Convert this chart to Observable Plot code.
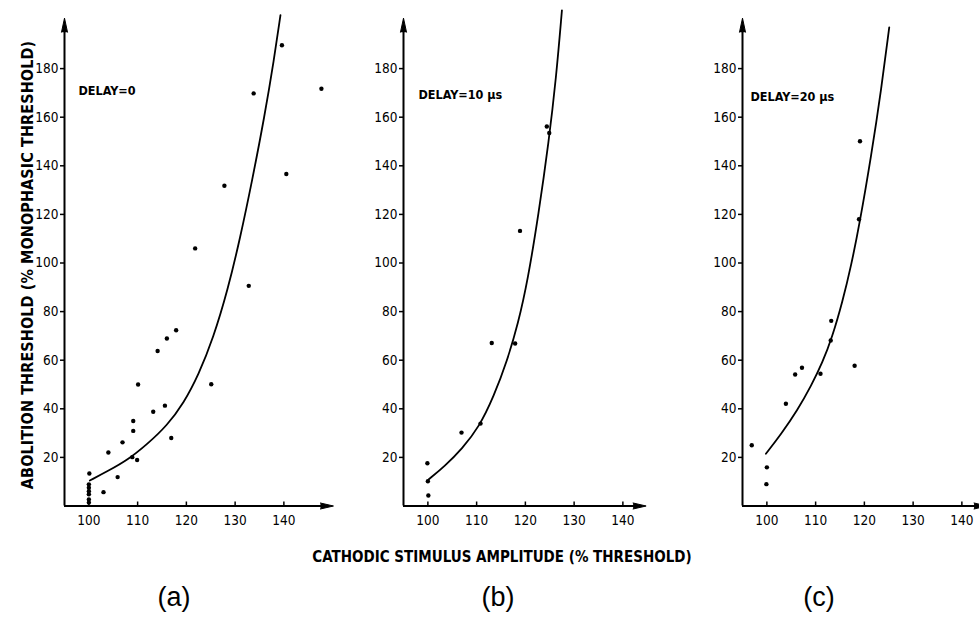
<!DOCTYPE html>
<html>
<head>
<meta charset="utf-8">
<script src="https://cdn.jsdelivr.net/npm/d3@7"></script>
<script src="https://cdn.jsdelivr.net/npm/@observablehq/plot@0.6"></script>
<style>
  html, body { margin: 0; padding: 0; background: #fff; }
  #wrap { position: relative; width: 979px; height: 617px; overflow: hidden; background: #fff; color: #000; }
  .panel { position: absolute; top: 0; width: 339px; height: 540px; }
  .panel svg { max-width: none !important; }
  .ytitle {
    position: absolute; left: 27px; top: 265px; white-space: nowrap;
    transform: translate(-50%, -50%) rotate(-90deg);
    font-family: "DejaVu Sans", sans-serif; font-stretch: condensed;
    font-weight: bold; font-size: 16px; letter-spacing: 0.1px;
  }
  .xtitle {
    position: absolute; left: 502px; top: 557px; white-space: nowrap;
    transform: translate(-50%, -50%);
    font-family: "DejaVu Sans", sans-serif; font-stretch: condensed;
    font-weight: bold; font-size: 15px; letter-spacing: 0px;
  }
  .tag {
    position: absolute; top: 597px; transform: translate(-50%, -50%);
    font-family: "Liberation Sans", Arial, sans-serif; font-size: 27px;
  }
</style>
</head>
<body>
<div id="wrap"></div>
<script>
// Abolition threshold vs. cathodic stimulus amplitude, three delays.

const xDomain = [95, 150];
const yDomain = [0, 200];
const xTicks = [100, 110, 120, 130, 140];
const yTicks = [20, 40, 60, 80, 100, 120, 140, 160, 180];
const panelTags = ["(a)", "(b)", "(c)"];
const delayLabels = ["DELAY=0", "DELAY=10 \u03bcs", "DELAY=20 \u03bcs"];
const xAxisEnds = [150, 144.6, 145];

// (a) delay = 0
const amplitudeA = [139.6, 133.8, 147.7, 127.8, 140.5, 121.8, 132.8, 117.9, 116.0, 114.1, 110.1, 125.1, 113.2, 115.6, 109.1, 109.1, 106.9, 116.9, 104.0, 108.9, 109.9, 105.9, 103.0, 100.1, 100.0, 100.0, 100.0, 100.0, 100.0, 100.0];
const thresholdA = [189.6, 169.8, 171.7, 131.8, 136.6, 106.0, 90.6, 72.3, 68.9, 63.8, 50.0, 50.1, 38.8, 41.3, 35.0, 30.9, 26.2, 28.0, 22.0, 20.1, 18.9, 11.9, 5.7, 13.4, 8.9, 7.5, 6.1, 4.8, 2.7, 1.4];
const fitXA = [100.2, 104.0, 108.0, 112.0, 116.0, 119.5, 122.5, 125.5, 128.5, 131.0, 133.5, 136.0, 138.0, 139.3];
const fitYA = [10.5, 14.5, 19.0, 25.5, 33.0, 42.5, 54.0, 69.0, 89.0, 110.0, 134.0, 160.0, 184.0, 202.0];

// (b) delay = 10 us
const amplitudeB = [124.4, 124.9, 118.9, 113.1, 117.9, 106.9, 110.8, 99.9, 100.0, 100.1];
const thresholdB = [156.2, 153.5, 113.2, 67.1, 66.9, 30.2, 33.9, 17.6, 10.2, 4.3];
const fitXB = [100.2, 103.5, 107.0, 110.5, 113.5, 116.3, 118.5, 120.5, 122.7, 124.8, 126.3, 127.5];
const fitYB = [11.0, 16.5, 23.5, 32.5, 45.0, 60.0, 75.0, 93.0, 120.0, 150.0, 176.0, 204.0];

// (c) delay = 20 us
const amplitudeC = [119.1, 118.9, 113.2, 113.1, 118.0, 107.2, 105.8, 111.0, 103.9, 96.9, 100.0, 99.9];
const thresholdC = [150.1, 118.0, 76.2, 68.1, 57.7, 56.9, 54.1, 54.4, 42.1, 25.0, 15.9, 9.0];
const fitXC = [99.8, 102.9, 106.3, 109.1, 111.4, 113.4, 115.5, 117.3, 119.0, 121.4, 123.5, 125.1];
const fitYC = [21.5, 29.5, 39.5, 49.5, 59.0, 69.5, 84.0, 99.0, 116.0, 144.0, 172.0, 197.0];

const zip = (xs, ys) => xs.map((x, i) => ({x, y: ys[i]}));
const panels = [
  {pts: zip(amplitudeA, thresholdA), fit: zip(fitXA, fitYA), labelDx: 14, labelDy: 70.5},
  {pts: zip(amplitudeB, thresholdB), fit: zip(fitXB, fitYB), labelDx: 15, labelDy: 74.5},
  {pts: zip(amplitudeC, thresholdC), fit: zip(fitXC, fitYC), labelDx: 8, labelDy: 76.5}
];

const W = 339, H = 540, mL = 64, mT = 19.5, mB = 34.5;
const mR = W - mL - (xDomain[1] - xDomain[0]) * 4.875;
const frameH = H - mT - mB;
const yArrowBase = 195;

const wrap = document.getElementById("wrap");

panels.forEach((p, i) => {
  const chart = Plot.plot({
    width: W, height: H,
    marginLeft: mL, marginRight: mR, marginTop: mT, marginBottom: mB,
    x: {domain: xDomain},
    y: {domain: yDomain},
    style: {fontFamily: "'DejaVu Sans', sans-serif", fontStretch: "condensed", fontSize: "13.5px", color: "#000", background: "transparent", overflow: "visible", maxWidth: "none"},
    marks: [
      Plot.axisY(yTicks, {tickSize: 4, tickPadding: 2, label: null, fontSize: 13.5, strokeWidth: 1.5}),
      Plot.axisX(xTicks, {tickSize: 0, tickPadding: 9, label: null, fontSize: 13.5}),
      Plot.tickX(xTicks, {x: d => d, insetTop: frameH - 4, strokeWidth: 1.5}),
      Plot.ruleX([xDomain[0]], {y1: yDomain[0], y2: yArrowBase, strokeWidth: 2}),
      Plot.ruleY([yDomain[0]], {x1: xDomain[0], x2: xAxisEnds[i] - 2, strokeWidth: 2}),
      Plot.vector([yArrowBase], {x: () => xDomain[0], y: d => d, shape: "spike", anchor: "start", length: 14, r: 3, fill: "#000", stroke: "#000", strokeWidth: 1}),
      Plot.vector([xAxisEnds[i] - 2.5], {x: d => d, y: () => yDomain[0], rotate: 90, shape: "spike", anchor: "start", length: 13, r: 3, fill: "#000", stroke: "#000", strokeWidth: 1}),
      Plot.line(p.fit, {x: "x", y: "y", curve: "basis", stroke: "#000", strokeWidth: 1.8}),
      Plot.dot(p.pts, {x: "x", y: "y", r: 2.2, fill: "#000"}),
      Plot.text([delayLabels[i]], {text: d => d, frameAnchor: "top-left", dx: p.labelDx, dy: p.labelDy, textAnchor: "start", lineAnchor: "middle", fontSize: 12.5, fontWeight: "bold", fill: "#000"})
    ]
  });
  const holder = document.createElement("div");
  holder.className = "panel";
  holder.style.left = (i * W) + "px";
  holder.appendChild(chart);
  wrap.appendChild(holder);

  const tag = document.createElement("div");
  tag.className = "tag";
  tag.style.left = [174, 498, 819][i] + "px";
  tag.textContent = panelTags[i];
  wrap.appendChild(tag);
});

const yt = document.createElement("div");
yt.className = "ytitle";
yt.textContent = "ABOLITION THRESHOLD (% MONOPHASIC THRESHOLD)";
wrap.appendChild(yt);

const xt = document.createElement("div");
xt.className = "xtitle";
xt.textContent = "CATHODIC STIMULUS AMPLITUDE (% THRESHOLD)";
wrap.appendChild(xt);
</script>
</body>
</html>
